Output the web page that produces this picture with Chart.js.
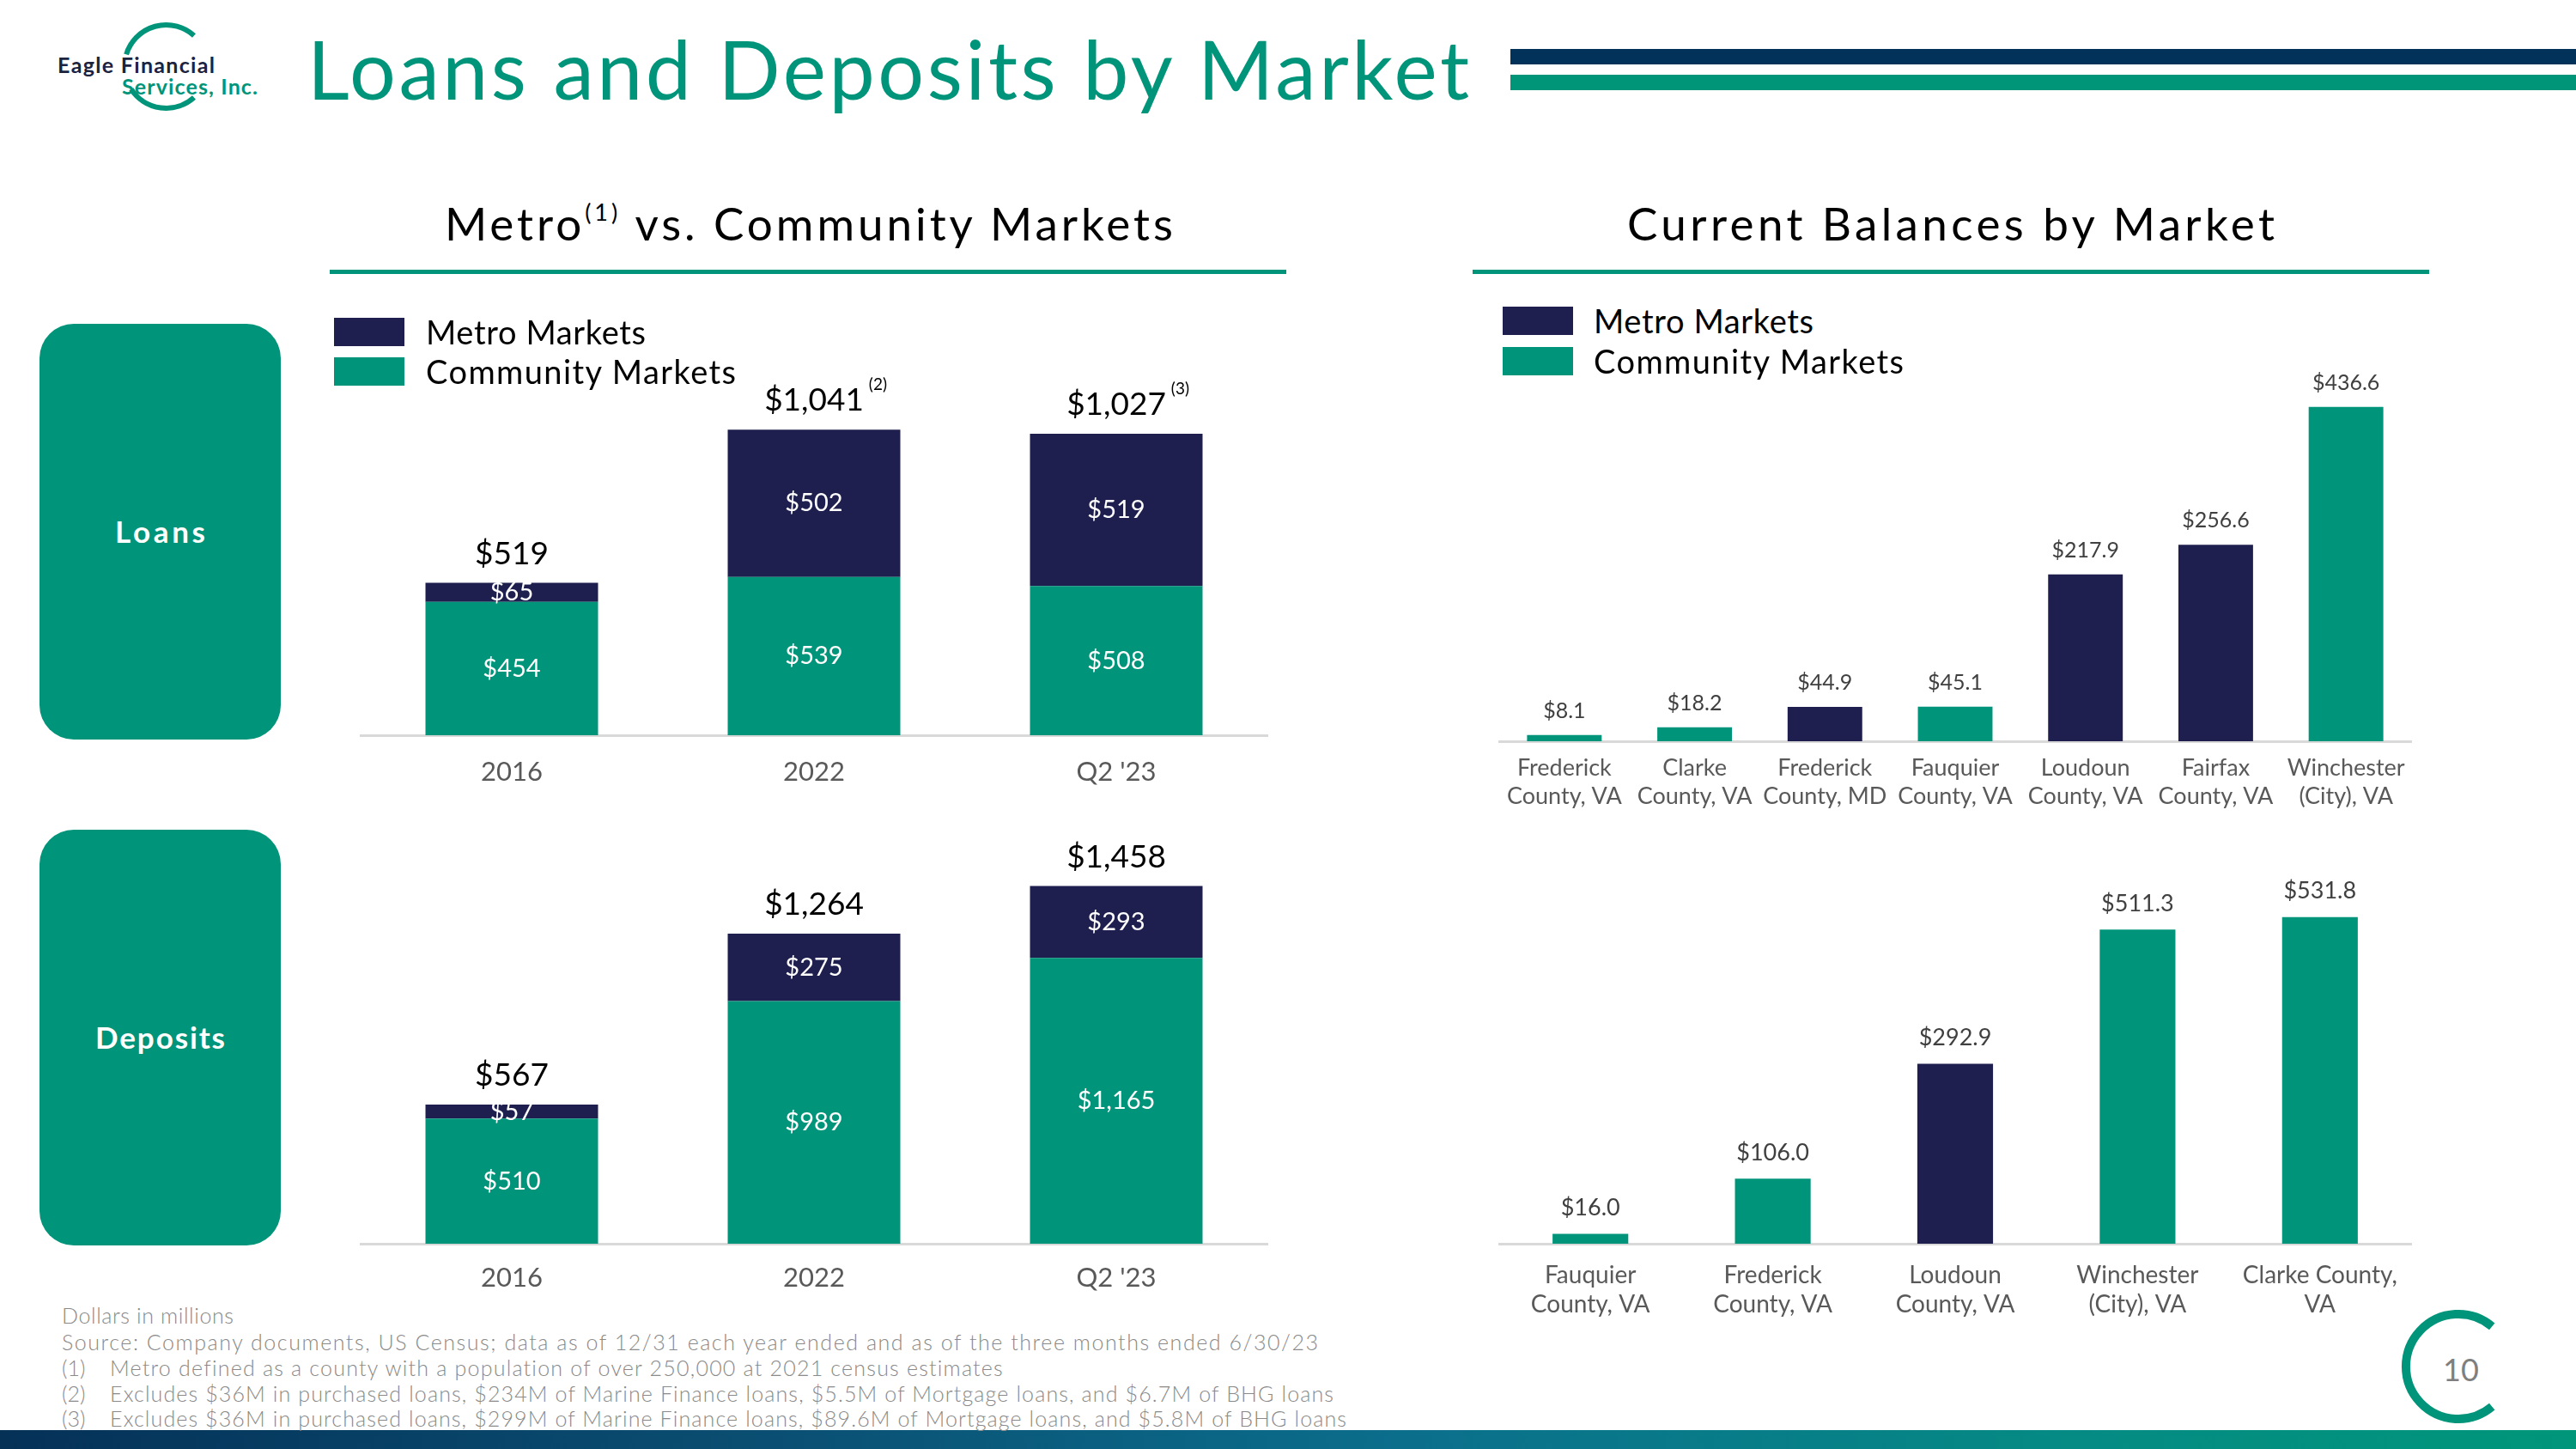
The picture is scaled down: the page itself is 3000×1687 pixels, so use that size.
<!DOCTYPE html>
<html>
<head>
<meta charset="utf-8">
<script src="https://cdn.jsdelivr.net/npm/chart.js@4.4.0/dist/chart.umd.min.js"></script>
<style>
  html, body { margin: 0; padding: 0; background: #ffffff; }
  #page { position: relative; width: 3000px; height: 1687px; overflow: hidden; font-family: Lato, "Noto Sans", sans-serif; background: #fff; }
  .abs { position: absolute; white-space: nowrap; }
  .t { position: absolute; white-space: nowrap; display: inline-block; }
  canvas { position: absolute; }
  .box { position: absolute; background: #00957a; border-radius: 40px; }
  .sq { position: absolute; }
  .fn { position: absolute; white-space: nowrap; font-size: 25px; line-height: 25px; color: #8a8a8a; font-weight: 300; }
</style>
</head>
<body>
<div id="page">
  <!-- decorative shapes -->
  <svg class="abs" style="left:0;top:0" width="3000" height="1687">
    <defs>
      <linearGradient id="bottomGrad" x1="0" y1="0" x2="1" y2="0">
        <stop offset="0" stop-color="#053157"/>
        <stop offset="0.3" stop-color="#0a4f73"/>
        <stop offset="0.55" stop-color="#0b6f8c"/>
        <stop offset="0.8" stop-color="#058a84"/>
        <stop offset="1" stop-color="#00967a"/>
      </linearGradient>
    </defs>
    <rect x="1759" y="57" width="1241" height="18" fill="#02325a"/>
    <rect x="1759" y="87" width="1241" height="18" fill="#009479"/>
    <rect x="384" y="314" width="1114" height="5" fill="#00957a"/>
    <rect x="1715" y="314" width="1114" height="5" fill="#00957a"/>
    <path d="M 225.95 41.46 A 48.5 48.5 0 0 0 147.1 63.3" fill="none" stroke="#00957a" stroke-width="6"/>
    <path d="M 152.8 103.9 A 48.5 48.5 0 0 0 225.95 113.54" fill="none" stroke="#00957a" stroke-width="6"/>
    <path d="M 2902.2 1544.3 A 61 61 0 1 0 2902.2 1637.7" fill="none" stroke="#00957a" stroke-width="10"/>
    <rect x="0" y="1665" width="3000" height="22" fill="url(#bottomGrad)"/>
  </svg>

  <!-- logo -->
  <div class="t" data-w="183" style="left:67px;top:63px;font-size:25px;line-height:25px;font-weight:700;color:#1b2340;">Eagle Financial</div>
  <div class="t" data-w="158" style="left:142px;top:88px;font-size:25px;line-height:25px;font-weight:700;color:#00957a;">Services, Inc.</div>

  <!-- title -->
  <div class="t" data-w="1353" style="left:358px;top:32px;font-size:95px;line-height:95px;color:#00957a;font-weight:400;">Loans and Deposits by Market</div>

  <!-- section titles -->
  <div class="t" data-w="848" style="left:518px;top:233px;font-size:53px;line-height:53px;color:#000;">Metro<sup style="font-size:27px;vertical-align:0;position:relative;top:-23px;">(1)</sup> vs. Community Markets</div>
  <div class="t" data-w="754" style="left:1895px;top:233px;font-size:53px;line-height:53px;color:#000;">Current Balances by Market</div>

  <!-- side boxes -->
  <div class="box" style="left:46px;top:377px;width:281px;height:484px;"></div>
  <div class="box" style="left:46px;top:966px;width:281px;height:484px;"></div>
  <div class="t" data-w="105" style="left:134px;top:601px;font-size:35px;line-height:35px;font-weight:700;color:#fff;">Loans</div>
  <div class="t" data-w="151" style="left:111px;top:1190px;font-size:35px;line-height:35px;font-weight:700;color:#fff;">Deposits</div>

  <!-- chart canvases -->
  <canvas id="loansStack" width="1140" height="560" style="left:380px;top:380px;"></canvas>
  <canvas id="depositsStack" width="1140" height="580" style="left:380px;top:960px;"></canvas>
  <canvas id="loanMarketsChart" width="1140" height="540" style="left:1700px;top:420px;"></canvas>
  <canvas id="depositMarketsChart" width="1140" height="560" style="left:1700px;top:990px;"></canvas>

  <!-- legends -->
  <div id="legendLeft"></div>
  <div id="legendRight"></div>

  <!-- footnotes -->
  <div class="fn" data-w="200" style="left:72px;top:1519px;">Dollars in millions</div>
  <div class="fn" data-w="1463" style="left:72px;top:1550px;">Source: Company documents, US Census; data as of 12/31 each year ended and as of the three months ended 6/30/23</div>
  <div class="fn" style="left:72px;top:1580px;">(1)</div>
  <div class="fn" data-w="1040" style="left:128px;top:1580px;">Metro defined as a county with a population of over 250,000 at 2021 census estimates</div>
  <div class="fn" style="left:72px;top:1610px;">(2)</div>
  <div class="fn" data-w="1425" style="left:128px;top:1610px;">Excludes $36M in purchased loans, $234M of Marine Finance loans, $5.5M of Mortgage loans, and $6.7M of BHG loans</div>
  <div class="fn" style="left:72px;top:1639px;">(3)</div>
  <div class="fn" data-w="1440" style="left:128px;top:1639px;">Excludes $36M in purchased loans, $299M of Marine Finance loans, $89.6M of Mortgage loans, and $5.8M of BHG loans</div>

  <!-- page number -->
  <div class="t" style="left:2845px;top:1576px;font-size:36px;line-height:36px;color:#7f7f7f;">10</div>
</div>

<script>
// ---------------- data ----------------
const years = ['2016', '2022', "Q2 '23"];
const loansMetro = [65, 502, 519];
const loansCommunity = [454, 539, 508];
const loansNotes = ['', '(2)', '(3)'];
const depositsMetro = [57, 275, 293];
const depositsCommunity = [510, 989, 1165];

const loanMarkets = [
  ['Frederick', 'County, VA'],
  ['Clarke', 'County, VA'],
  ['Frederick', 'County, MD'],
  ['Fauquier', 'County, VA'],
  ['Loudoun', 'County, VA'],
  ['Fairfax', 'County, VA'],
  ['Winchester', '(City), VA']
];
const loanBalances = [8.1, 18.2, 44.9, 45.1, 217.9, 256.6, 436.6];
const loanMarketTypes = ['Community', 'Community', 'Metro', 'Community', 'Metro', 'Metro', 'Community'];

const depositMarkets = [
  ['Fauquier', 'County, VA'],
  ['Frederick', 'County, VA'],
  ['Loudoun', 'County, VA'],
  ['Winchester', '(City), VA'],
  ['Clarke County,', 'VA']
];
const depositBalances = [16.0, 106.0, 292.9, 511.3, 531.8];
const depositMarketTypes = ['Community', 'Community', 'Metro', 'Community', 'Community'];

const legendNames = ['Metro Markets', 'Community Markets'];

// ---------------- style ----------------
const FONT = 'Lato';
const NAVY = '#1e1f4f';
const TEAL = '#00957a';
const typeColor = { Metro: NAVY, Community: TEAL };

// fit HTML text widths
document.querySelectorAll('[data-w]').forEach(el => {
  const target = parseFloat(el.dataset.w);
  const w = el.getBoundingClientRect().width;
  const n = el.textContent.length;
  if (n > 1) el.style.letterSpacing = ((target - w) / (n - 1)) + 'px';
});

// legends
function buildLegend(holderId, left, tops, textLeft) {
  const holder = document.getElementById(holderId);
  const colors = [NAVY, TEAL];
  legendNames.forEach((name, i) => {
    const sq = document.createElement('div');
    sq.className = 'sq';
    sq.style.cssText = `left:${left}px;top:${tops[i]}px;width:82px;height:33px;background:${colors[i]};`;
    holder.appendChild(sq);
    const tx = document.createElement('div');
    tx.className = 't';
    tx.textContent = name;
    tx.style.cssText = `left:${textLeft}px;top:${tops[i] + 16.5 - 20}px;font-size:38px;line-height:38px;color:#000;`;
    holder.appendChild(tx);
    const targetW = i === 0 ? 256 : 361;
    const w = tx.getBoundingClientRect().width;
    tx.style.letterSpacing = ((targetW - w) / (name.length - 1)) + 'px';
  });
}
buildLegend('legendLeft', 389, [370, 416], 496);
buildLegend('legendRight', 1750, [357, 404], 1856);

// ---------------- label plugin ----------------
const fmtInt = v => '$' + Math.round(v).toLocaleString('en-US');
const barLabels = {
  id: 'barLabels',
  afterDatasetsDraw(chart, args, o) {
    const ctx = chart.ctx;
    ctx.save();
    ctx.textAlign = 'center';
    ctx.textBaseline = 'middle';
    if (o.inside) {
      ctx.font = `${o.inside.size}px ${FONT}`;
      ctx.fillStyle = o.inside.color;
      chart.data.datasets.forEach((ds, di) => {
        chart.getDatasetMeta(di).data.forEach((el, i) => {
          ctx.fillText(fmtInt(ds.data[i]), el.x, (el.y + el.base) / 2);
        });
      });
    }
    if (o.total) {
      const n = chart.data.datasets.length;
      chart.getDatasetMeta(n - 1).data.forEach((el, i) => {
        const sum = chart.data.datasets.reduce((a, ds) => a + ds.data[i], 0);
        const txt = fmtInt(sum);
        const y = el.y - o.total.offset;
        ctx.font = `${o.total.size}px ${FONT}`;
        ctx.fillStyle = o.total.color;
        ctx.textAlign = 'center';
        ctx.fillText(txt, el.x, y);
        const note = o.total.notes ? o.total.notes[i] : '';
        if (note) {
          const w = ctx.measureText(txt).width;
          ctx.font = `${o.total.noteSize}px ${FONT}`;
          ctx.textAlign = 'left';
          ctx.fillText(note, el.x + w / 2 + 6, y - 18);
          ctx.textAlign = 'center';
        }
      });
    }
    if (o.top) {
      ctx.font = `${o.top.size}px ${FONT}`;
      ctx.fillStyle = o.top.color;
      const ds = chart.data.datasets[0];
      chart.getDatasetMeta(0).data.forEach((el, i) => {
        ctx.fillText('$' + ds.data[i].toFixed(1), el.x, el.y - o.top.offset);
      });
    }
    ctx.restore();
  }
};

function stacked(id, metro, community, cfg) {
  return new Chart(document.getElementById(id), {
    type: 'bar',
    data: {
      labels: years,
      datasets: [
        { label: legendNames[1], data: community, backgroundColor: TEAL, stack: 's' },
        { label: legendNames[0], data: metro, backgroundColor: NAVY, stack: 's' }
      ]
    },
    options: {
      responsive: false, animation: false, maintainAspectRatio: false,
      layout: { padding: { left: 40, right: 44, top: cfg.padTop, bottom: 0 } },
      datasets: { bar: { barPercentage: 0.571, categoryPercentage: 1.0 } },
      scales: {
        x: {
          stacked: true,
          grid: { display: false, drawTicks: false },
          border: { display: true, color: '#d9d9d9', width: 3 },
          ticks: { color: '#595959', font: { family: FONT, size: 31 }, padding: cfg.tickPad },
          afterFit(s) { s.height = cfg.axisH; }
        },
        y: { stacked: true, display: false, min: 0, max: cfg.max }
      },
      plugins: {
        legend: { display: false }, tooltip: { enabled: false },
        barLabels: {
          inside: { size: 29, color: '#ffffff' },
          total: { size: 37, color: '#000000', offset: 34, notes: cfg.notes, noteSize: 19 }
        }
      }
    },
    plugins: [barLabels]
  });
}

function simple(id, labels, values, types, cfg) {
  return new Chart(document.getElementById(id), {
    type: 'bar',
    data: {
      labels: labels,
      datasets: [{ label: 'Balance', data: values, backgroundColor: types.map(t => typeColor[t]) }]
    },
    options: {
      responsive: false, animation: false, maintainAspectRatio: false,
      layout: { padding: { left: 46, right: 32, top: cfg.padTop, bottom: 0 } },
      datasets: { bar: { barPercentage: cfg.barPct, categoryPercentage: 1.0 } },
      scales: {
        x: {
          grid: { display: false, drawTicks: false },
          border: { display: true, color: '#d9d9d9', width: 3 },
          ticks: { color: '#595959', font: { family: FONT, size: cfg.tickSize, lineHeight: cfg.lineH }, padding: cfg.tickPad },
          afterFit(s) { s.height = cfg.axisH; }
        },
        y: { display: false, min: 0, max: cfg.max }
      },
      plugins: {
        legend: { display: false }, tooltip: { enabled: false },
        barLabels: { top: { size: cfg.labelSize, color: '#404040', offset: cfg.labelOffset } }
      }
    },
    plugins: [barLabels]
  });
}

stacked('loansStack', loansMetro, loansCommunity, { padTop: 59, axisH: 84, max: 1220, tickPad: 24, notes: loansNotes });
stacked('depositsStack', depositsMetro, depositsCommunity, { padTop: 51, axisH: 92, max: 1530, tickPad: 21, notes: null });
simple('loanMarketsChart', loanMarkets, loanBalances, loanMarketTypes,
  { padTop: 15, axisH: 97, max: 480, barPct: 0.573, tickSize: 27, lineH: 1.22, tickPad: 15, labelSize: 25, labelOffset: 28 });
simple('depositMarketsChart', depositMarkets, depositBalances, depositMarketTypes,
  { padTop: 36, axisH: 102, max: 590, barPct: 0.415, tickSize: 28, lineH: 1.21, tickPad: 20, labelSize: 27, labelOffset: 30 });
</script>
</body>
</html>
